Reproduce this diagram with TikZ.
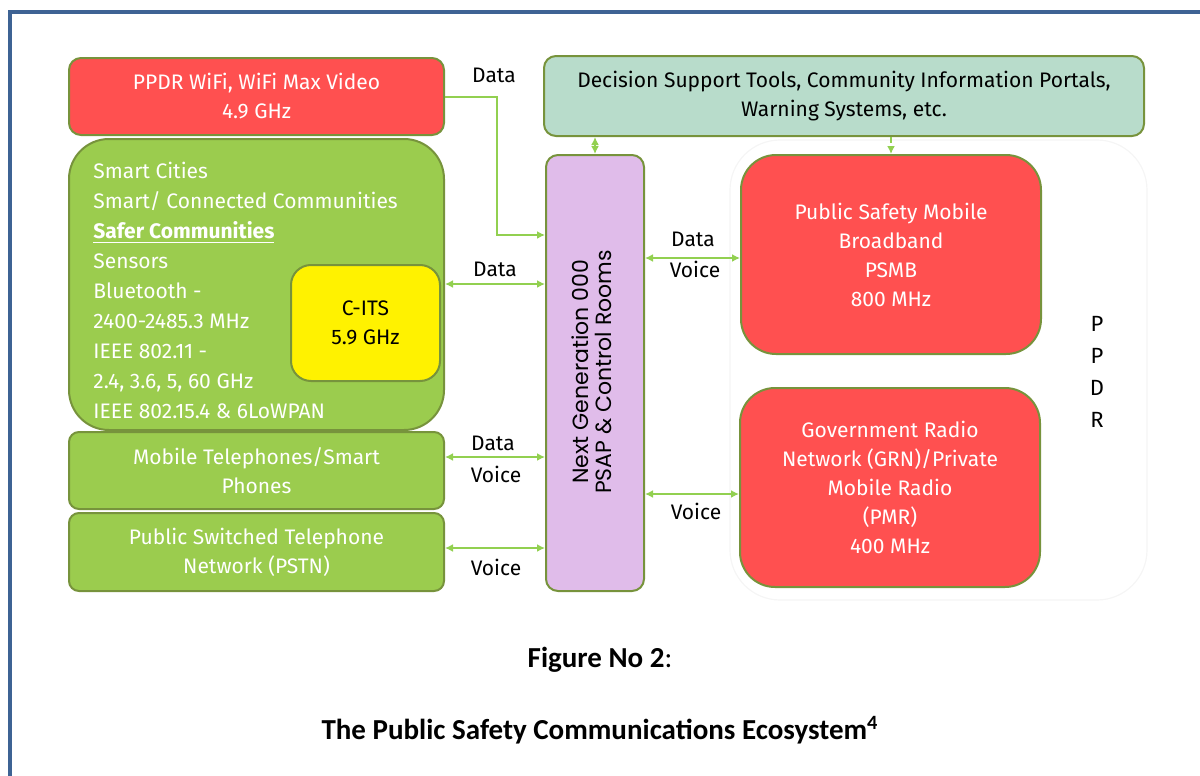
\documentclass[tikz,border=0pt]{standalone}
\usepackage{fontspec}
\setsansfont{Fira Sans}
\newfontfamily\capfont{Carlito}
\newfontfamily\ngfont{Poppins}
\usepackage{xcolor}
\usetikzlibrary{arrows.meta}
\definecolor{ppdrred}{HTML}{FF5050}
\definecolor{ecogreen}{HTML}{9BCC4E}
\definecolor{boxline}{HTML}{77933C}
\definecolor{linkgreen}{HTML}{92D050}
\definecolor{mint}{HTML}{B8DCCB}
\definecolor{lilac}{HTML}{E0BCEA}
\definecolor{frameblue}{HTML}{3E6394}
\tikzset{
  box/.style={draw=boxline,line width=1pt,inner sep=0pt,align=center,text=white,
    font=\sffamily\fontsize{10.5}{14.5}\selectfont},
  redbox/.style={box,fill=ppdrred},
  greenbox/.style={box,fill=ecogreen},
  tag/.style={font=\sffamily\fontsize{10.5}{12}\selectfont,text=black,inner sep=0pt},
  link/.style={draw=linkgreen,line width=1pt,{Latex[length=4pt,width=4pt]}-{Latex[length=4pt,width=4pt]}},
  onelink/.style={draw=linkgreen,line width=1pt,-{Latex[length=4pt,width=4pt]}}
}
\begin{document}
\begin{tikzpicture}[x=0.5pt,y=-0.5pt]
  \useasboundingbox (0,0) rectangle (1200,776);
  \draw[frameblue,line width=2pt] (10,776) |- (1200,12);
  % PPDR group outline
  \node[draw=black!4,line width=0.6pt,rounded corners=25pt,minimum width=208.5pt,minimum height=230pt] (ppdr) at (938.5,370) {};
  \node[tag,align=center,font=\sffamily\fontsize{11}{16}\selectfont] (ppdrtext) at (1097,372) {P\\P\\D\\R};
  % left column
  \node[redbox,rounded corners=6pt,minimum width=187.5pt,minimum height=38.5pt] (wifi) at (256.5,96.5) {PPDR WiFi, WiFi Max Video\\4.9 GHz};
  \node[greenbox,rounded corners=20pt,minimum width=187.5pt,minimum height=145.5pt] (smart) at (256.5,284.5) {};
  \node[anchor=north west,inner sep=0pt,align=left,text=white,font=\sffamily\fontsize{10.5}{15}\selectfont] (smarttext) at (93,162)
    {Smart Cities\\Smart/ Connected Communities\\\underline{\textbf{Safer Communities}}\\Sensors\\Bluetooth -\\2400-2485.3 MHz\\IEEE 802.11 -\\2.4, 3.6, 5, 60 GHz\\IEEE 802.15.4 \& 6LoWPAN};
  \node[box,fill=yellow,text=black,rounded corners=10pt,minimum width=74.5pt,minimum height=58pt] (cits) at (365.5,323) {C-ITS\\5.9 GHz};
  \node[greenbox,rounded corners=5pt,minimum width=187.5pt,minimum height=38.5pt] (mobile) at (256.5,470.5) {Mobile Telephones/Smart\\Phones};
  \node[greenbox,rounded corners=5pt,minimum width=187.5pt,minimum height=39pt] (pstn) at (256.5,552) {Public Switched Telephone\\Network (PSTN)};
  % top and middle
  \node[box,fill=mint,text=black,rounded corners=6pt,minimum width=300pt,minimum height=40pt] (dst) at (844,96)
    {Decision Support Tools, Community Information Portals,\\Warning Systems, etc.};
  \node[box,fill=lilac,rounded corners=6pt,minimum width=49pt,minimum height=218pt] (ng) at (595,373) {};
  \node[rotate=90,inner sep=0pt,align=center,font=\ngfont\fontsize{11}{11.5}\selectfont] (ngtext) at (592,372)
    {Next Generation 000\\PSAP \& Control Rooms};
  % PPDR networks
  \node[redbox,rounded corners=17.5pt,minimum width=150pt,minimum height=99.5pt] (psmb) at (891,254.5)
    {Public Safety Mobile\\Broadband\\PSMB\\800 MHz};
  \node[redbox,rounded corners=17.5pt,minimum width=150pt,minimum height=99.5pt] (grn) at (890,487.5)
    {Government Radio\\Network (GRN)/Private\\Mobile Radio\\(PMR)\\400 MHz};
  % links
  \coordinate (wifibend) at (497,235);
  \draw[onelink] (wifi.east) -| (wifibend) -- (wifibend -| ng.west);
  \draw[link] (smart.east |- 0,284) -- (ng.west |- 0,284);
  \draw[link] (mobile.east |- 0,457) -- (ng.west |- 0,457);
  \draw[link] (pstn.east |- 0,548) -- (ng.west |- 0,548);
  \draw[link] (ng.east |- 0,258) -- (psmb.west |- 0,258);
  \draw[link] (ng.east |- 0,494) -- (grn.west |- 0,494);
  \draw[link] (ng.north) -- (ng.north |- dst.south);
  \draw[onelink,dash pattern=on 3pt off 1.5pt] (psmb.north |- dst.south) -- (psmb.north);
  % link labels
  \node[tag] (wifidata) at (494,75) {Data};
  \node[tag] (smartdata) at (495,269) {Data};
  \node[tag] (mobiledata) at (493,443) {Data};
  \node[tag] (mobilevoice) at (496,474) {Voice};
  \node[tag] (pstnvoice) at (496,567) {Voice};
  \node[tag] (psmbdata) at (693,239) {Data};
  \node[tag] (psmbvoice) at (695,269) {Voice};
  \node[tag] (grnvoice) at (696,511) {Voice};
  % caption
  \node[font=\capfont\fontsize{14.5}{16}\selectfont] (capone) at (600,660) {\textbf{Figure No 2}:};
  \node[font=\capfont\fontsize{14.5}{16}\selectfont\bfseries] (captwo) at (600,730) {The Public Safety Communications Ecosystem\textsuperscript{4}};
\end{tikzpicture}
\end{document}
